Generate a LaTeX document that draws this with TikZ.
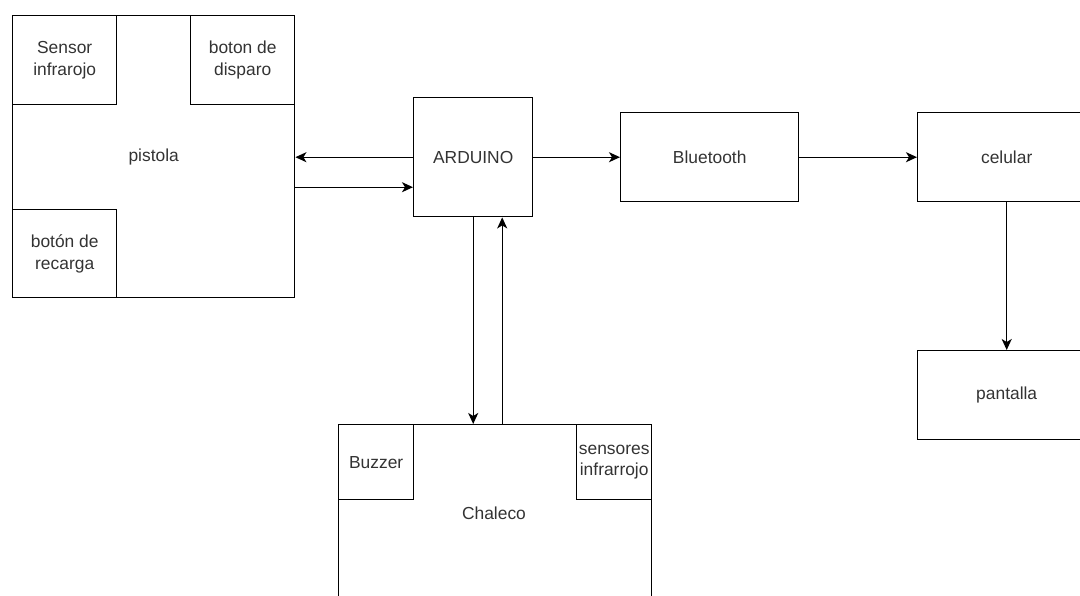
\documentclass[tikz,border=0pt]{standalone}
\usepackage{fontspec}
\setmainfont{Liberation Sans}
\usetikzlibrary{arrows.meta,positioning,calc}

\begin{document}
\begin{tikzpicture}[x=1pt,y=-1pt,>={Stealth[length=11pt,width=10pt,inset=3pt]},
 font=\fontsize{17.4}{21.5}\selectfont,line width=1.4pt,
 cell/.style={draw,align=center,text=black!80,inner sep=0pt,anchor=north west}]
\useasboundingbox (0,0) rectangle (1080,595);
\clip (0,0) rectangle (1080,595);
\node[cell,minimum width=282,minimum height=282] (pis) at (12,15) {pistola};
\node[cell,minimum width=104,minimum height=89] (sen) at (12,15) {Sensor\\infrarojo};
\node[cell,minimum width=104,minimum height=89] (dis) at (190,15) {boton de\\disparo};
\node[cell,minimum width=104,minimum height=88] (rec) at (12,209) {botón de\\recarga};
\node[cell,minimum width=119,minimum height=119] (ard) at (413,97) {ARDUINO};
\node[cell,minimum width=178,minimum height=89] (blu) at (620,112) {Bluetooth};
\node[cell,minimum width=178,minimum height=89] (cel) at (917,112) {celular};
\node[cell,minimum width=178,minimum height=89] (pan) at (917,350) {pantalla};
\node[cell,minimum width=313,minimum height=313] (cha) at (338,424) {};
\node[text=black!80] (chatxt) at (494,513) {Chaleco};
\node[cell,minimum width=75,minimum height=75] (buz) at (338,424) {Buzzer};
\node[cell,minimum width=75,minimum height=75] (ir) at (576,424) {sensores\\infrarrojo};
\draw[->] (ard.west) -- (ard.west -| pis.east);
\draw[->] ([yshift=-30pt]ard.west -| pis.east) -- ([yshift=-30pt]ard.west);
\draw[->] (ard.east) -- (blu.west);
\draw[->] (blu.east) -- (cel.west);
\draw[->] (cel.south) -- (pan.north);
\draw[->] (ard.south) -- (ard.south |- cha.north);
\draw[->] ([xshift=29pt]ard.south |- cha.north) -- ([xshift=29pt]ard.south);
\end{tikzpicture}
\end{document}
